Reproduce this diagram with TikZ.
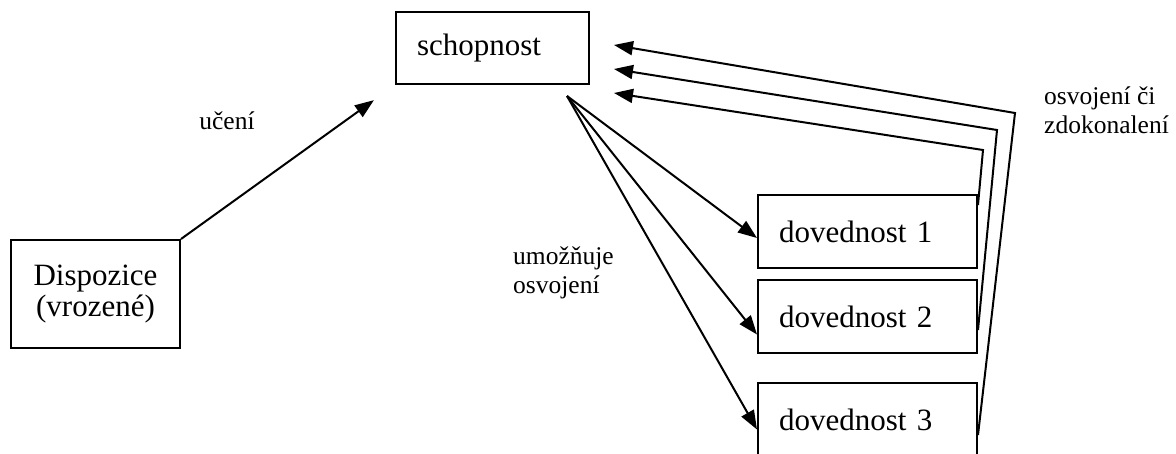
\documentclass[tikz,border=0pt]{standalone}
\usepackage{fontspec}
\setmainfont{Liberation Serif}
\usetikzlibrary{arrows.meta,positioning}

\begin{document}
\begin{tikzpicture}[x=1pt, y=-1pt,
    box/.style={draw, line width=2pt, inner sep=0pt, font=\fontsize{31}{31}\selectfont},
    skill/.style={box, minimum width=219pt, minimum height=73pt, text width=177pt, align=left},
    lbl/.style={inner sep=0pt, align=left, font=\fontsize{25.5}{29}\selectfont},
    arr/.style={-{Triangle[length=19pt, width=14pt]}, line width=2pt}
  ]
    \useasboundingbox (0,0) rectangle (1176,454);

    \node[box, minimum width=169pt, minimum height=108pt, align=center] (disp) at (95.5,294) {Dispozice\\(vrozené)};
    \node[box, minimum width=193pt, minimum height=72pt, text width=151pt, align=left] (schop) at (492.5,48) {schopnost};
    \node[skill] (dov1) at (867.5,232) {dovednost 1};
    \node[skill] (dov2) at (867.5,316.5) {dovednost 2};
    \node[skill] (dov3) at (867.5,419.5) {dovednost 3};

    \node[lbl] (learn) at (227,121) {učení};
    \node[lbl, anchor=west] (enable) at (513,273) {umožňuje\\osvojení};
    \node[lbl, anchor=west] (improve) at (1044,110) {osvojení či\\zdokonalení};

    \draw[arr, shorten >=26pt] (disp.north east) -- (schop.south west);

    \coordinate (fan) at ([xshift=-23pt, yshift=-11pt]schop.south east);
    \draw[arr] (fan) -- ([yshift=-6pt]dov1.west);
    \draw[arr] (fan) -- ([yshift=-18pt]dov2.west);
    \draw[arr] (fan) -- ([yshift=-10pt]dov3.west);

    \draw[arr] ([yshift=27pt]dov1.east) -- (983,150) -- ([xshift=24pt, yshift=-45pt]schop.east);
    \draw[arr] ([yshift=-13.5pt]dov2.east) -- (997,130) -- ([xshift=24pt, yshift=-21pt]schop.east);
    \draw[arr] ([yshift=-15.5pt]dov3.east) -- (1015,113) -- ([xshift=24pt, yshift=3pt]schop.east);
  \end{tikzpicture}
\end{document}
